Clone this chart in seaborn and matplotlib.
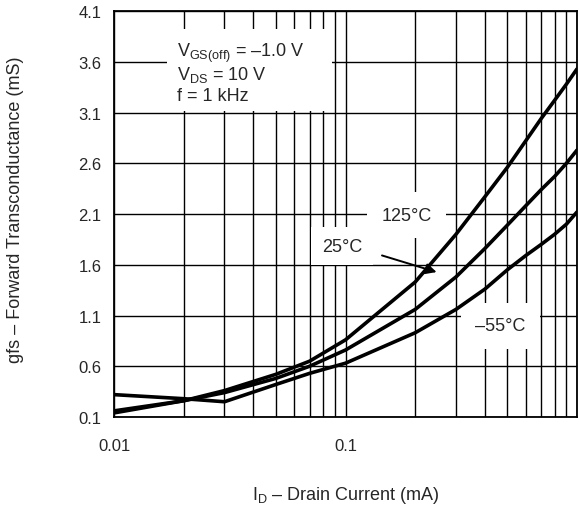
import matplotlib
matplotlib.use("Agg")
import matplotlib.pyplot as plt
import matplotlib.ticker as mticker
from matplotlib.patches import Rectangle
import seaborn as sns
import pandas as pd

# drain current (mA) and transconductance (mS)
drain_current = [0.01, 0.02, 0.03, 0.05, 0.07, 0.1, 0.2, 0.3, 0.4, 0.5, 0.6, 0.7, 0.8, 0.9, 1.0]
gfs_125 = [0.14, 0.26, 0.36, 0.52, 0.65, 0.86, 1.43, 1.90, 2.27, 2.56, 2.82, 3.04, 3.22, 3.38, 3.53]
gfs_25 = [0.16, 0.26, 0.34, 0.48, 0.60, 0.76, 1.16, 1.48, 1.76, 1.99, 2.18, 2.34, 2.47, 2.60, 2.73]
gfs_m55 = [0.32, 0.28, 0.25, 0.42, 0.53, 0.63, 0.93, 1.16, 1.36, 1.55, 1.69, 1.80, 1.90, 2.00, 2.12]
temps = ["125°C", "25°C", "–55°C"]
y_ticks = [0.1, 0.6, 1.1, 1.6, 2.1, 2.6, 3.1, 3.6, 4.1]

df = pd.concat([
    pd.DataFrame({"id": drain_current, "gfs": g, "temp": t})
    for g, t in zip([gfs_125, gfs_25, gfs_m55], temps)
])

sns.set_style("white")
plt.rcParams["font.family"] = ["Liberation Sans", "DejaVu Sans"]
plt.rcParams["mathtext.fontset"] = "custom"
plt.rcParams["mathtext.rm"] = "Liberation Sans"
plt.rcParams["mathtext.it"] = "Liberation Sans:italic"

fig = plt.figure(figsize=(5.79, 5.06), dpi=100)
ax = fig.add_axes([0.197, 0.174, 0.7995, 0.802])

sns.lineplot(data=df, x="id", y="gfs", hue="temp", units="temp", estimator=None,
             palette=["black"] * 3, linewidth=2.6, legend=False, ax=ax, zorder=4,
             sort=False)

ax.set_xscale("log")
ax.set_xlim(0.01, 1.0)
ax.set_ylim(0.1, 4.1)
ax.set_xticks([0.01, 0.1, 1.0])
ax.set_xticklabels(["0.01", "0.1", ""])
ax.xaxis.set_minor_locator(mticker.LogLocator(base=10, subs=range(2, 10)))
ax.xaxis.set_minor_formatter(mticker.NullFormatter())
ax.set_yticks(y_ticks)
ax.set_yticklabels([f"{v:.1f}" for v in y_ticks])

ax.set_axisbelow(True)
ax.xaxis.grid(True, which="both", color="black", linewidth=1.0)
ax.yaxis.grid(True, which="major", color="black", linewidth=1.0)
ax.tick_params(axis="both", which="both", length=0, labelsize=12)
ax.tick_params(axis="x", pad=15)
ax.tick_params(axis="y", pad=9)
for s in ax.spines.values():
    s.set_color("black")
    s.set_linewidth(1.3)

ax.set_xlabel("I$_{\\rm D}$ – Drain Current (mA)", fontsize=13)
ax.set_ylabel("gfs – Forward Transconductance (mS)", fontsize=13)
ax.xaxis.set_label_coords(0.5, -0.165)
ax.yaxis.set_label_coords(-0.195, 0.512)

# conditions box
ax.add_patch(Rectangle((0.114, 0.754), 0.357, 0.202, transform=ax.transAxes,
                       facecolor="white", edgecolor="none", zorder=2.5))
cond = ["V$_{\\rm GS(off)}$ = –1.0 V", "V$_{\\rm DS}$ = 10 V", "f = 1 kHz"]
for txt, yy in zip(cond, [0.898, 0.845, 0.793]):
    ax.text(0.136, yy, txt, transform=ax.transAxes, fontsize=13,
            va="center", ha="left", zorder=3)

box = dict(facecolor="white", edgecolor="none", boxstyle="square,pad=0.8")
ax.text(0.183, 2.09, temps[0], fontsize=13, ha="center", va="center", bbox=box, zorder=3)
ax.text(0.097, 1.785, temps[1], fontsize=13, ha="center", va="center",
        bbox=dict(facecolor="white", edgecolor="none", boxstyle="square,pad=0.6"), zorder=3)
ax.text(0.466, 1.00, temps[2], fontsize=13, ha="center", va="center", bbox=box, zorder=3)
ax.annotate("", xy=(0.254, 1.52), xytext=(0.140, 1.70),
            arrowprops=dict(arrowstyle="-|>", color="black", lw=1.4, mutation_scale=16),
            zorder=5)

fig.savefig("out.png", dpi=100)
